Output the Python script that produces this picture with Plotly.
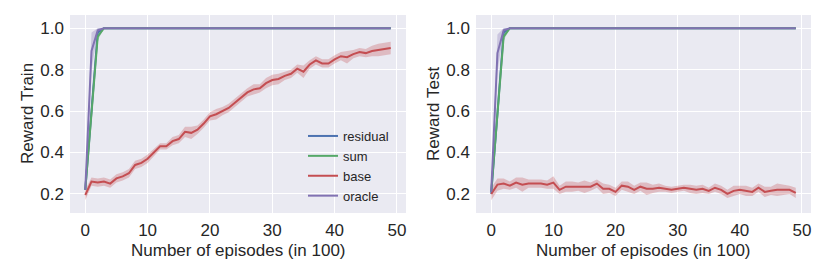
import plotly.graph_objects as go

episodes = list(range(50))

# ---- Train (left) ----
base_train = [0.195, 0.26, 0.255, 0.26, 0.25, 0.275, 0.285, 0.30, 0.34, 0.35,
              0.37, 0.40, 0.43, 0.43, 0.455, 0.465, 0.50, 0.495, 0.51, 0.54,
              0.575, 0.585, 0.60, 0.615, 0.64, 0.665, 0.69, 0.705, 0.71, 0.735,
              0.75, 0.755, 0.77, 0.78, 0.805, 0.79, 0.825, 0.845, 0.83, 0.83,
              0.85, 0.865, 0.86, 0.875, 0.885, 0.88, 0.89, 0.895, 0.90, 0.905]
base_train_sd = [0.025, 0.02, 0.02, 0.02, 0.02, 0.02, 0.02, 0.02, 0.02, 0.02,
                 0.02, 0.02, 0.015, 0.015, 0.02, 0.02, 0.025, 0.03, 0.02, 0.02,
                 0.02, 0.025, 0.02, 0.02, 0.02, 0.02, 0.02, 0.025, 0.02, 0.025,
                 0.025, 0.025, 0.02, 0.02, 0.02, 0.03, 0.02, 0.02, 0.02, 0.02,
                 0.02, 0.02, 0.03, 0.02, 0.02, 0.02, 0.025, 0.03, 0.03, 0.03]
oracle_train = [0.22, 0.89, 0.99] + [1.0] * 47
oracle_train_sd = [0.01, 0.09, 0.01] + [0.0] * 47
residual_train = [0.22, 0.60, 0.98] + [1.0] * 47
residual_train_sd = [0.01, 0.05, 0.02] + [0.0] * 47
sum_train = [0.22, 0.60, 0.96] + [1.0] * 47
sum_train_sd = [0.01, 0.03, 0.02] + [0.0] * 47

# ---- Test (right) ----
base_test = [0.20, 0.245, 0.25, 0.24, 0.255, 0.245, 0.25, 0.25, 0.25, 0.245,
             0.255, 0.22, 0.235, 0.235, 0.235, 0.235, 0.235, 0.25, 0.225, 0.225,
             0.21, 0.24, 0.235, 0.22, 0.235, 0.225, 0.225, 0.23, 0.225, 0.22,
             0.225, 0.23, 0.225, 0.22, 0.225, 0.215, 0.23, 0.22, 0.20, 0.215,
             0.22, 0.215, 0.21, 0.23, 0.21, 0.215, 0.22, 0.22, 0.22, 0.205]
base_test_sd = [0.03, 0.03, 0.025, 0.02, 0.025, 0.035, 0.02, 0.02, 0.02, 0.02,
                0.03, 0.02, 0.025, 0.025, 0.02, 0.03, 0.02, 0.02, 0.025, 0.02,
                0.02, 0.02, 0.025, 0.02, 0.02, 0.03, 0.02, 0.02, 0.015, 0.015,
                0.015, 0.015, 0.02, 0.02, 0.02, 0.015, 0.02, 0.02, 0.02, 0.025,
                0.02, 0.025, 0.02, 0.02, 0.025, 0.02, 0.03, 0.025, 0.02, 0.025]
oracle_test = [0.21, 0.88, 0.99] + [1.0] * 47
oracle_test_sd = [0.01, 0.09, 0.01] + [0.0] * 47
residual_test = [0.20, 0.57, 0.98] + [1.0] * 47
residual_test_sd = [0.01, 0.05, 0.02] + [0.0] * 47
sum_test = [0.21, 0.58, 0.96] + [1.0] * 47
sum_test_sd = [0.01, 0.03, 0.02] + [0.0] * 47

x_ticks = [0, 10, 20, 30, 40, 50]
y_ticks = [0.2, 0.4, 0.6, 0.8, 1.0]
y_tick_text = ["0.2", "0.4", "0.6", "0.8", "1.0"]

names = ["residual", "sum", "base", "oracle"]
colors = {"residual": "#4C72B0", "sum": "#55A868", "base": "#C44E52", "oracle": "#8172B2"}
fills = {"residual": "rgba(76,114,176,0.3)", "sum": "rgba(85,168,104,0.3)",
         "base": "rgba(196,78,82,0.3)", "oracle": "rgba(129,114,178,0.3)"}

train = {"residual": (residual_train, residual_train_sd), "sum": (sum_train, sum_train_sd),
         "base": (base_train, base_train_sd), "oracle": (oracle_train, oracle_train_sd)}
test = {"residual": (residual_test, residual_test_sd), "sum": (sum_test, sum_test_sd),
        "base": (base_test, base_test_sd), "oracle": (oracle_test, oracle_test_sd)}

fig = go.Figure()

for data, xa, ya, show in [(train, "x", "y", True), (test, "x2", "y2", False)]:
    for n in names:
        m, s = data[n]
        lo = [a - b for a, b in zip(m, s)]
        hi = [a + b for a, b in zip(m, s)]
        fig.add_trace(go.Scatter(x=episodes, y=lo, mode="lines", line=dict(width=0),
                                 xaxis=xa, yaxis=ya, showlegend=False, hoverinfo="skip"))
        fig.add_trace(go.Scatter(x=episodes, y=hi, mode="lines", line=dict(width=0),
                                 fill="tonexty", fillcolor=fills[n],
                                 xaxis=xa, yaxis=ya, showlegend=False, hoverinfo="skip"))
    for n in names:
        m, s = data[n]
        fig.add_trace(go.Scatter(x=episodes, y=m, mode="lines", name=n,
                                 line=dict(color=colors[n], width=2),
                                 xaxis=xa, yaxis=ya, showlegend=show))

# page body has an 8px margin, so the figure is shifted by OFF px
OFF = 8
W, H = 830 - OFF, 277 - OFF
L, R, T, B = 70 - OFF, 811 - OFF, 15 - OFF, 213 - OFF   # plot-area box spanning both panels
PW, PH = R - L, B - T


def px(p):
    return (p - OFF - L) / PW


def py(p):
    return (B - (p - OFF)) / PH


font_family = "Liberation Sans, Arial, sans-serif"
axis_common = dict(showgrid=True, gridcolor="white", gridwidth=1.3, zeroline=False,
                   showline=False, ticks="", automargin=False,
                   tickfont=dict(size=17, color="#262626"))

fig.update_layout(
    width=W, height=H,
    margin=dict(l=L, r=W - R, t=T, b=H - B, autoexpand=False),
    paper_bgcolor="white", plot_bgcolor="#EAEAF2",
    font=dict(family=font_family, color="#262626"),
    xaxis=dict(domain=[0, px(406)], range=[-2.45, 51.45], tickvals=x_ticks,
               anchor="y", ticklabelstandoff=5, **axis_common),
    yaxis=dict(domain=[0, 1], range=[0.108, 1.064], tickvals=y_ticks, ticktext=y_tick_text,
               anchor="x", ticklabelstandoff=5, **axis_common),
    xaxis2=dict(domain=[px(476), 1], range=[-2.45, 51.45], tickvals=x_ticks,
                anchor="y2", ticklabelstandoff=5, **axis_common),
    yaxis2=dict(domain=[0, 1], range=[0.108, 1.064], tickvals=y_ticks, ticktext=y_tick_text,
                anchor="x2", ticklabelstandoff=5, **axis_common),
    legend=dict(x=px(303), y=py(121), xanchor="left", yanchor="top", traceorder="normal",
                bgcolor="rgba(0,0,0,0)", font=dict(size=13, color="#262626")),
    annotations=[
        dict(text="Number of episodes (in 100)", x=px((70 + 406) / 2), y=py(251),
             xref="paper", yref="paper", showarrow=False, font=dict(size=17),
             xanchor="center", yanchor="middle"),
        dict(text="Number of episodes (in 100)", x=px((476 + 811) / 2), y=py(251),
             xref="paper", yref="paper", showarrow=False, font=dict(size=17),
             xanchor="center", yanchor="middle"),
        dict(text="Reward Train", x=px(27), y=py(114), xref="paper", yref="paper",
             showarrow=False, textangle=-90, font=dict(size=17),
             xanchor="center", yanchor="middle"),
        dict(text="Reward Test", x=px(433), y=py(114), xref="paper", yref="paper",
             showarrow=False, textangle=-90, font=dict(size=17),
             xanchor="center", yanchor="middle"),
    ],
)

fig.write_html("out.html")
